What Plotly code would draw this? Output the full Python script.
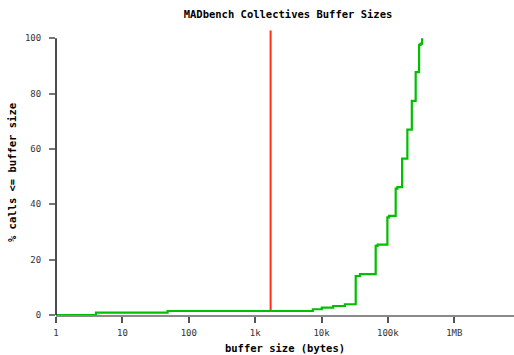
import plotly.graph_objects as go

# Cumulative distribution of collective-call buffer sizes
buffer_bytes = [1, 4, 48, 7400, 10100, 15000, 22500, 32768, 38000, 65536, 70000,
                98304, 104000, 131072, 139000, 163840, 196608, 229376, 262144,
                294912, 311000, 327680]
pct_calls = [0, 0.87, 1.45, 2.07, 2.68, 3.26, 3.88, 14.1, 14.8, 25.0, 25.4,
             35.3, 35.8, 45.7, 46.2, 56.5, 67.0, 77.4, 87.8, 97.6, 98.1, 100]

# Vertical marker line
marker_bytes = [1710, 1710]
marker_pct = [1.45, 102.8]

x_tickvals = [1, 10, 100, 1000, 10000, 100000, 1000000]
x_ticktext = ["1", "10", "100", "1k", "10k", "100k", "1MB"]
y_tickvals = [0, 20, 40, 60, 80, 100]

mono = "DejaVu Sans Mono"

fig = go.Figure()
fig.add_trace(go.Scatter(
    x=marker_bytes, y=marker_pct, mode="lines",
    line=dict(color="#ff3010", width=2), showlegend=False, hoverinfo="skip"))
fig.add_trace(go.Scatter(
    x=buffer_bytes, y=pct_calls, mode="lines",
    line=dict(color="#00bf00", width=2.2, shape="hv"), showlegend=False))

# y axis line only spans the 0-100 tick range
fig.add_shape(type="line", xref="paper", yref="y", x0=0, x1=0, y0=0, y1=100,
              line=dict(color="#111111", width=1.5), layer="above")

fig.update_layout(
    width=514, height=355,
    margin=dict(l=56, r=0, t=30, b=40),
    paper_bgcolor="white", plot_bgcolor="white",
    title=dict(text="<b>MADbench Collectives Buffer Sizes</b>",
               font=dict(family=mono, size=10.5, color="#000"),
               x=288 / 514, xref="container", xanchor="center",
               y=1 - 14 / 355, yanchor="middle"),
    xaxis=dict(type="log", range=[0, 6.9], tickvals=x_tickvals, ticktext=x_ticktext,
               showgrid=False, zeroline=False,
               showline=True, linecolor="#8a8a8a", linewidth=2,
               ticks="outside", ticklen=6, tickwidth=1.5, tickcolor="#555",
               ticklabelstandoff=2,
               tickfont=dict(family=mono, size=9, color="#333"),
               title=dict(text="<b>buffer size (bytes)</b>", standoff=8,
                          font=dict(family=mono, size=10.5, color="#000"))),
    yaxis=dict(range=[0, 103], tickvals=y_tickvals, showgrid=False, zeroline=False,
               showline=False,
               ticks="outside", ticklen=6, tickwidth=1.5, tickcolor="#777",
               ticklabelstandoff=6,
               tickfont=dict(family=mono, size=9, color="#333"),
               title=dict(text="<b>% calls <= buffer size</b>", standoff=6,
                          font=dict(family=mono, size=10.5, color="#000"))),
)

fig.write_html("out.html")
